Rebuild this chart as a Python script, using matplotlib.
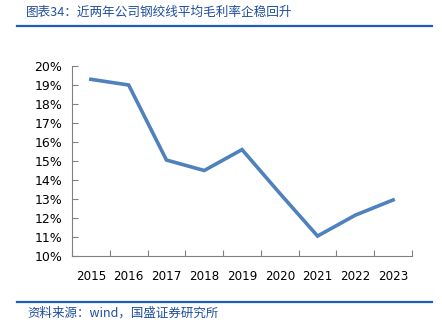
import matplotlib
matplotlib.use('Agg')
from matplotlib import pyplot as plt
from matplotlib.lines import Line2D

plt.rcParams['font.family'] = ['Noto Sans CJK SC', 'DejaVu Sans']

years = ['2015', '2016', '2017', '2018', '2019', '2020', '2021', '2022', '2023']
margin = [19.3, 19.0, 15.05, 14.5, 15.6, 13.3, 11.05, 12.15, 12.95]

title = '图表34：近两年公司钢绞线平均毛利率企稳回升'
source = '资料来源：wind，国盛证券研究所'

W, H = 442, 328
fig = plt.figure(figsize=(W / 100, H / 100), dpi=100)
axis = fig.add_axes([72 / W, 1 - 256 / H, 340 / W, 190 / H])

# Render data at category centres
xs = [i + 0.5 for i in range(len(years))]
axis.plot(xs, margin, color='#4f81bd', linewidth=2.6, solid_joinstyle='miter')

axis.set_xlim(0, len(years))
axis.set_ylim(10, 20)
axis.set_yticks(range(10, 21))
axis.set_yticklabels(['%d%%' % v for v in range(10, 21)], family=['DejaVu Sans'], fontsize=9)
axis.set_xticks(range(len(years) + 1))
axis.set_xticklabels([])
axis.set_xticks(xs, minor=True)
axis.set_xticklabels(years, minor=True, family=['DejaVu Sans'], fontsize=8.6)
axis.tick_params(axis='x', which='minor', length=0, pad=10)
axis.tick_params(axis='x', which='major', length=4, direction='in', color='#808080')
axis.tick_params(axis='y', length=4, direction='in', color='#808080', pad=7)
for side in ['top', 'right']:
	axis.spines[side].set_visible(False)
for side in ['left', 'bottom']:
	axis.spines[side].set_color('#808080')

# Title, source and rules
fig.text(26 / W, 1 - 12 / H, title, color='#1f4e9c', fontsize=9.1, style='italic', va='center')
fig.add_artist(Line2D([17 / W, 432 / W], [1 - 26 / H] * 2, color='#1f5cb8', linewidth=1.6))
fig.add_artist(Line2D([17 / W, 432 / W], [1 - 302 / H] * 2, color='#1f5cb8', linewidth=1.6))
fig.text(27 / W, 1 - 313 / H, source, color='#1f4e9c', fontsize=9, style='italic', va='center')

plt.savefig('out.png', dpi=100)
